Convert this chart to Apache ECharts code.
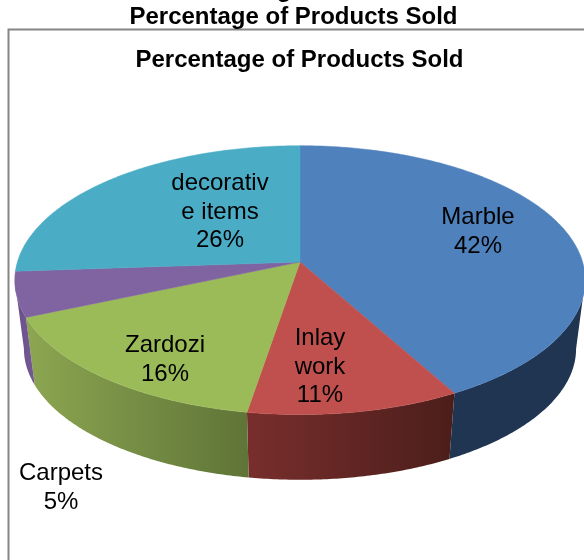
<!DOCTYPE html>
<html>
<head>
<meta charset="utf-8">
<style>
  html, body { margin: 0; padding: 0; background: #fff; overflow: hidden; }
  #main { width: 584px; height: 560px; }
</style>
<script src="https://cdn.jsdelivr.net/npm/echarts@6/dist/echarts.min.js"></script>
</head>
<body>
<div id="main"></div>
<script>
const categories = ['Marble', 'Inlay work', 'Zardozi', 'Carpets', 'decorative items'];
const values = [42, 10.6, 15.9, 5.4, 26.1];
const labelLines = ['Marble', 'Inlay\nwork', 'Zardozi', 'Carpets', 'decorativ\ne items'];
const titleText = 'Percentage of Products Sold';

const topColors = ['#4f81bd', '#c0504d', '#9bbb59', '#8064a2', '#4bacc6'];
const wallColors = [
  ['#1f3552', '#1f3552'],
  ['#782e2c', '#4b1e1b'],
  ['#8ca651', '#5f7437'],
  ['#6a4f8b', '#745a93'],
  ['#2f7a90', '#2f7a90'],
];
const labelAnchors = [[478, 232], [320, 367], [165, 360], [61, 488], [220, 212]];

// perspective of the tilted disc
const cx = 300, cy = 262, rx = 282.6, ry = 132, persp = 0.135;
const wallDrop = 69, wallScaleX = 0.968, wallScaleY = 0.975;
const silhouette = Math.asin(persp);

function project(angle) {
  const X = Math.sin(angle), Y = -Math.cos(angle);
  const w = 1 - persp * Y;
  return [(rx * X) / w, (ry * Y) / w];
}
function arcPoints(a0, a1) {
  const n = Math.max(2, Math.ceil(Math.abs(a1 - a0) / 0.01));
  const pts = [];
  for (let i = 0; i <= n; i++) pts.push(project(a0 + ((a1 - a0) * i) / n));
  return pts;
}

const total = values.reduce((s, v) => s + v, 0);
let running = 0;
const rows = values.map((v, i) => {
  const row = [running / total, (running + v) / total, v, i];
  running += v;
  return row;
});

function renderSlice(params, api) {
  const i = api.value(3);
  const a0 = api.value(0) * Math.PI * 2;
  const a1 = api.value(1) * Math.PI * 2;
  const children = [];

  // front wall, only the part between the two silhouette angles
  const w0 = Math.max(a0, Math.PI / 2 + silhouette);
  const w1 = Math.min(a1, (Math.PI * 3) / 2 - silhouette);
  if (w1 > w0) {
    const rim = arcPoints(w0, w1);
    const upper = rim.map((p) => [cx + p[0], cy + p[1]]);
    const lower = rim.map((p) => [cx + p[0] * wallScaleX, cy + p[1] * wallScaleY + wallDrop]);
    children.push({
      type: 'polygon',
      z2: 1,
      shape: { points: upper.concat(lower.reverse()) },
      style: {
        fill: new echarts.graphic.LinearGradient(0, 0, 1, 0, [
          { offset: 0, color: wallColors[i][0] },
          { offset: 1, color: wallColors[i][1] },
        ]),
      },
    });
  }

  // top face
  const top = arcPoints(a0, a1).map((p) => [cx + p[0], cy + p[1]]);
  children.push({
    type: 'polygon',
    z2: 2,
    shape: { points: [[cx, cy]].concat(top) },
    style: { fill: topColors[i], stroke: topColors[i], lineWidth: 0.5 },
  });

  children.push({
    type: 'text',
    z2: 3,
    style: {
      x: labelAnchors[i][0],
      y: labelAnchors[i][1],
      text: labelLines[i] + '\n' + Math.round(api.value(2)) + '%',
      align: 'center',
      verticalAlign: 'middle',
      fontFamily: '"Liberation Sans"',
      fontSize: 24,
      lineHeight: 28.5,
      fill: '#000',
    },
  });
  return { type: 'group', children };
}

const myChart = echarts.init(document.getElementById('main'), null, { renderer: 'canvas' });

const titleStyle = { fontFamily: '"Liberation Sans"', fontSize: 24, fontWeight: 'bold', color: '#000' };

const option = {
  animation: false,
  backgroundColor: '#fff',
  title: [
    { text: titleText, left: 288.5, top: 0, textAlign: 'center', textStyle: titleStyle },
    { text: titleText, left: 294.5, top: 43, textAlign: 'center', textStyle: titleStyle },
    // only the descender of a line above is left in the picture
    { text: 'g', left: 279, top: -27, textAlign: 'center', textStyle: titleStyle },
  ],
  graphic: [
    {
      type: 'rect',
      silent: true,
      z: -1,
      shape: { x: 8.5, y: 29.5, width: 700, height: 700 },
      style: { fill: 'none', stroke: '#868686', lineWidth: 2 },
    },
  ],
  series: [
    {
      type: 'custom',
      name: categories.join(', '),
      coordinateSystem: 'none',
      renderItem: renderSlice,
      data: rows,
    },
  ],
};

myChart.setOption(option);
</script>
</body>
</html>
